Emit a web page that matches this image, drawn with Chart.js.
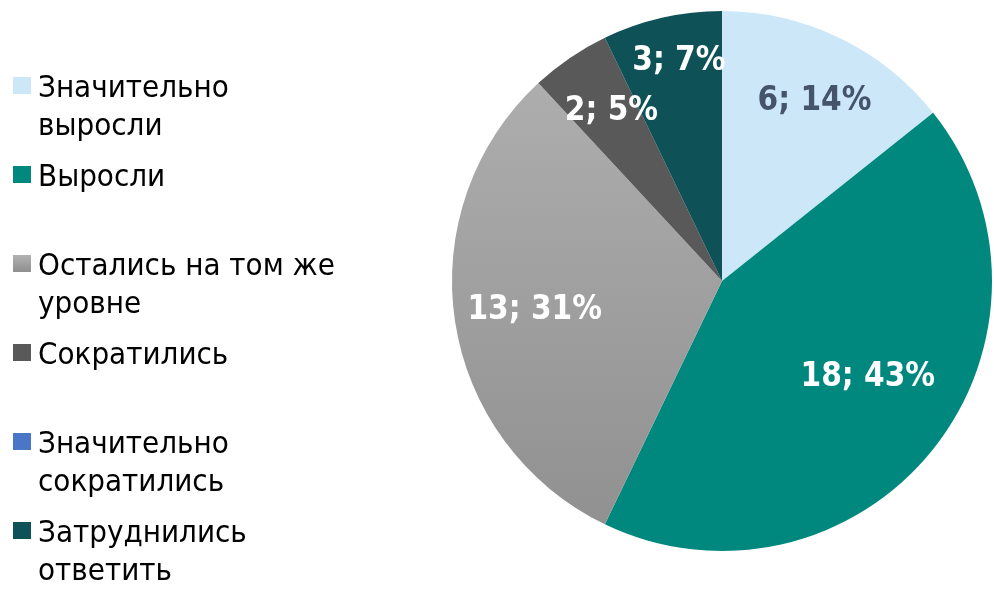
<!DOCTYPE html>
<html>
<head>
<meta charset="utf-8">
<script src="https://cdn.jsdelivr.net/npm/chart.js@4/dist/chart.umd.min.js"></script>
<style>
  html, body { margin: 0; padding: 0; background: #fff; }
  #wrap { position: relative; width: 994px; height: 597px; }
</style>
</head>
<body>
<div id="wrap"><canvas id="pie" width="994" height="597"></canvas></div>
<script>
// --- данные ---
const categories = [
  ['Значительно', 'выросли'],
  ['Выросли'],
  ['Остались на том же', 'уровне'],
  ['Сократились'],
  ['Значительно', 'сократились'],
  ['Затруднились', 'ответить']
];
const counts = [6, 18, 13, 2, 0, 3];

const colors = ['#CCE8F8', '#00877E', 'grey-gradient', '#595959', '#4A76C8', '#0E5258'];
const labelColors = ['#44546A', '#fff', '#fff', '#fff', '#fff', '#fff'];
// положение подписи: доля радиуса и сдвиг угла (градусы)
const labelPos = [[0.76, 1.1], [0.64, -6.1], [0.70, 0.8], [0.76, 1.7], [0, 0], [0.84, 1.9]];

const total = counts.reduce((a, b) => a + b, 0);

function greyFill(c, top, bottom) {
  const g = c.createLinearGradient(0, top, 0, bottom);
  g.addColorStop(0, '#B2B2B2');
  g.addColorStop(1, '#8F8F8F');
  return g;
}

const sliceColor = (ctx) => {
  const col = colors[ctx.dataIndex];
  if (col !== 'grey-gradient') return col;
  const area = ctx.chart.chartArea;
  if (!area) return '#A0A0A0';
  return greyFill(ctx.chart.ctx, area.top, area.bottom);
};

// подписи долей + легенда слева
const extras = {
  id: 'extras',
  afterDatasetsDraw(chart) {
    const c = chart.ctx;
    const arcs = chart.getDatasetMeta(0).data;
    c.save();
    c.font = 'bold 33px "DejaVu Sans Condensed", "DejaVu Sans"';
    c.textAlign = 'center';
    c.textBaseline = 'alphabetic';
    arcs.forEach((arc, i) => {
      const v = counts[i];
      if (!v) return;
      const p = arc.getProps(['x', 'y', 'startAngle', 'endAngle', 'outerRadius'], true);
      const mid = (p.startAngle + p.endAngle) / 2 + labelPos[i][1] * Math.PI / 180;
      const r = p.outerRadius * labelPos[i][0];
      const cx = p.x + Math.cos(mid) * r;
      const cy = p.y + Math.sin(mid) * r;
      c.fillStyle = labelColors[i];
      c.fillText(v + '; ' + Math.round(v / total * 100) + '%', cx, cy + 12);
    });

    // легенда
    c.textAlign = 'left';
    c.font = '31px "DejaVu Sans Condensed", "DejaVu Sans"';
    categories.forEach((lines, i) => {
      const base = 97 + i * 89;
      c.fillStyle = colors[i] === 'grey-gradient' ? greyFill(c, base - 20, base - 3) : colors[i];
      c.fillRect(13, base - 20, 18, 17);
      c.fillStyle = '#000';
      lines.forEach((t, k) => c.fillText(t, 38, base + k * 38));
    });
    c.restore();
  }
};

new Chart(document.getElementById('pie'), {
  type: 'pie',
  data: {
    labels: categories,
    datasets: [{
      data: counts,
      backgroundColor: sliceColor,
      borderWidth: 0
    }]
  },
  options: {
    responsive: false,
    animation: false,
    layout: { padding: { left: 452, right: 2, top: 11, bottom: 46 } },
    plugins: { legend: { display: false }, tooltip: { enabled: false } }
  },
  plugins: [extras]
});
</script>
</body>
</html>
